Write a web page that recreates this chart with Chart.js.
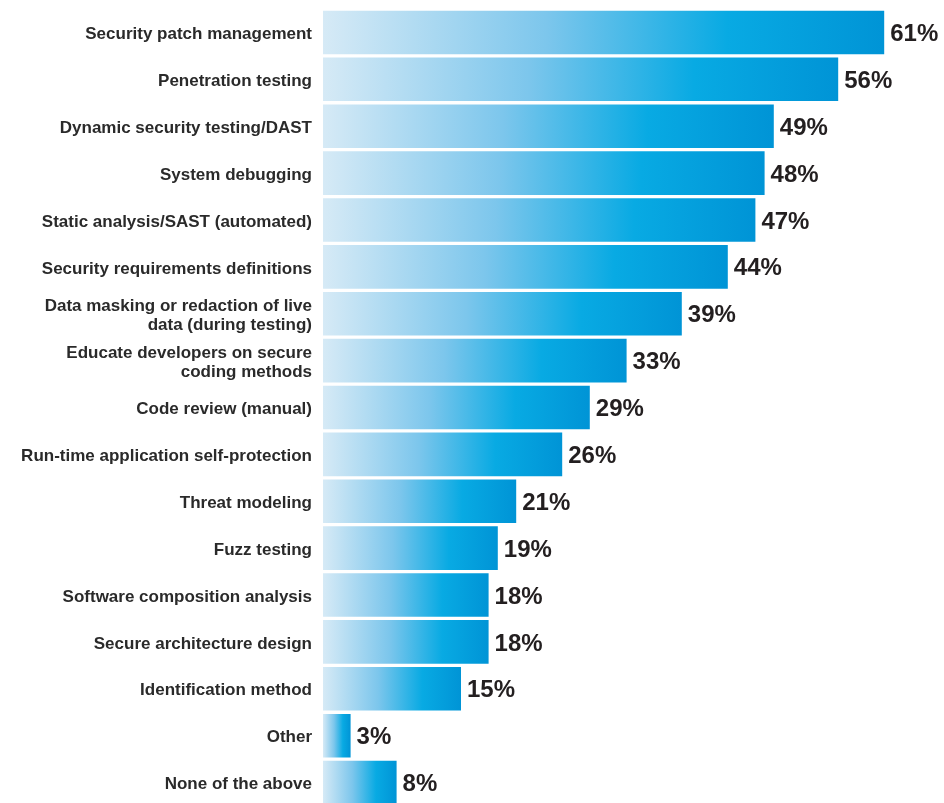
<!DOCTYPE html>
<html>
<head>
<meta charset="utf-8">
<script src="https://cdn.jsdelivr.net/npm/chart.js@4.4.0/dist/chart.umd.min.js"></script>
<style>
  html, body { margin: 0; padding: 0; background: #fff; overflow: hidden; }
  #wrap { position: relative; width: 944px; height: 810px; }
</style>
</head>
<body>
<div id="wrap"><canvas id="chart"></canvas></div>
<script>
  // --- Data ---
  const CATEGORIES = [
    'Security patch management',
    'Penetration testing',
    'Dynamic security testing/DAST',
    'System debugging',
    'Static analysis/SAST (automated)',
    'Security requirements definitions',
    ['Data masking or redaction of live', 'data (during testing)'],
    ['Educate developers on secure', 'coding methods'],
    'Code review (manual)',
    'Run-time application self-protection',
    'Threat modeling',
    'Fuzz testing',
    'Software composition analysis',
    'Secure architecture design',
    'Identification method',
    'Other',
    'None of the above'
  ];
  const VALUES = [61, 56, 49, 48, 47, 44, 39, 33, 29, 26, 21, 19, 18, 18, 15, 3, 8];

  const FONT = '"Liberation Sans", Arial, Helvetica, sans-serif';

  // Each bar gets its own gradient: pale on the left, bright blue at the bar end
  function barGradient(context) {
    const chart = context.chart;
    const xScale = chart.scales.x;
    if (!chart.chartArea || !xScale) return '#0094d6';
    const x0 = xScale.getPixelForValue(0);
    const x1 = xScale.getPixelForValue(VALUES[context.dataIndex]);
    const g = chart.ctx.createLinearGradient(x0, 0, x1, 0);
    g.addColorStop(0, '#d6eaf6');
    g.addColorStop(0.4, '#7cc6ec');
    g.addColorStop(0.72, '#08aae3');
    g.addColorStop(1, '#0094d6');
    return g;
  }

  // Percent labels at the end of each bar
  const valueLabels = {
    id: 'valueLabels',
    afterDatasetsDraw(chart) {
      const ctx = chart.ctx;
      ctx.save();
      ctx.font = 'bold 24px ' + FONT;
      ctx.fillStyle = '#231f20';
      ctx.textAlign = 'left';
      ctx.textBaseline = 'middle';
      chart.getDatasetMeta(0).data.forEach((bar, i) => {
        ctx.fillText(VALUES[i] + '%', bar.x + 6, bar.y + 2);
      });
      ctx.restore();
    }
  };

  new Chart(document.getElementById('chart'), {
    type: 'bar',
    data: {
      labels: CATEGORIES,
      datasets: [{
        data: VALUES,
        backgroundColor: barGradient,
        borderWidth: 0,
        barPercentage: 0.93,
        categoryPercentage: 1
      }]
    },
    options: {
      indexAxis: 'y',
      responsive: true,
      maintainAspectRatio: false,
      animation: false,
      layout: { padding: { top: 9, bottom: 4, left: 0, right: 23 } },
      plugins: {
        legend: { display: false },
        tooltip: { enabled: false }
      },
      scales: {
        x: {
          display: false,
          min: 0,
          max: 65
        },
        y: {
          afterFit(scale) {
            scale.width = 323;
            scale.paddingTop = 0;
            scale.paddingBottom = 0;
          },
          border: { display: false },
          grid: { display: false, drawTicks: false },
          ticks: {
            padding: 11,
            labelOffset: 2,
            color: '#2a2a2a',
            font: { family: FONT, size: 17, weight: 'bold', lineHeight: 1.1 }
          }
        }
      }
    },
    plugins: [valueLabels]
  });
</script>
</body>
</html>
